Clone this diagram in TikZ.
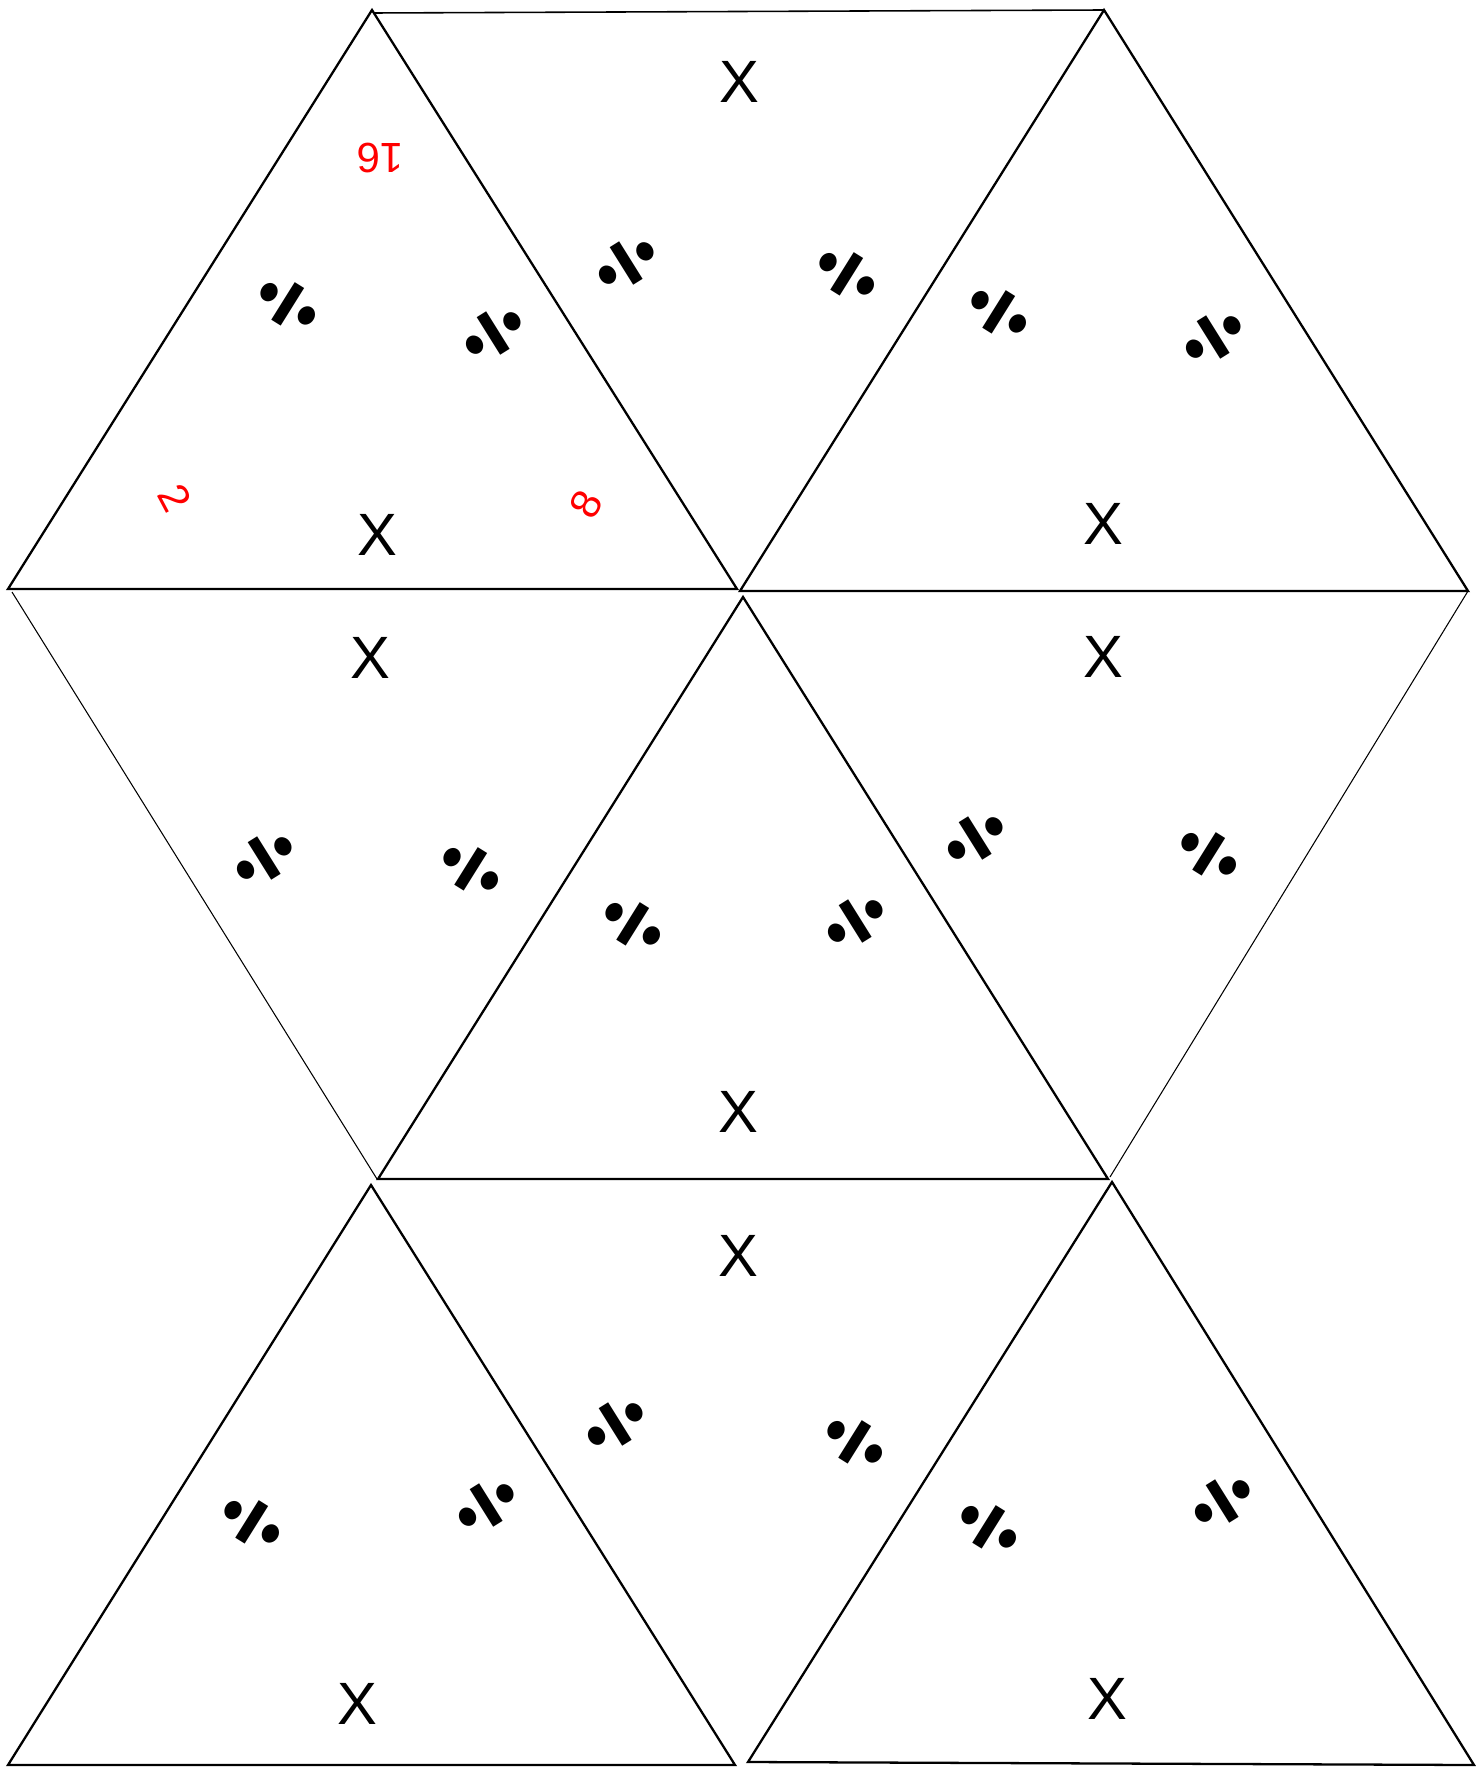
\documentclass[tikz,border=0pt]{standalone}
\usepackage{fontspec}
\setmainfont{Liberation Sans}
\newfontfamily\symfont{Fira Sans}
\usetikzlibrary{positioning}
\definecolor{edge}{HTML}{000000}
\definecolor{clue}{HTML}{FF0000}
\tikzset{
  tri/.style={draw=edge, line width=1.3pt, line join=miter},
  thinedge/.style={draw=edge, line width=0.6pt},
  opsym/.style={font=\symfont\bfseries\fontsize{52}{52}\selectfont, inner sep=0pt},
  mulsym/.style={font=\fontsize{34}{34}\selectfont, inner sep=0pt},
  cluenum/.style={text=clue, font=\fontsize{24}{24}\selectfont, inner sep=0pt},
}
\newcommand{\Dv}[3]{\node[opsym, rotate=#3, xscale=1.15] (#1) at (#2) {÷};}
\newcommand{\Mx}[2]{\node[mulsym] (#1) at (#2) {X};}

\begin{document}
\begin{tikzpicture}[x=0.02cm, y=-0.02cm]
  \useasboundingbox (0,0) rectangle (1475,1767);
  % vertices
  \coordinate (a1) at (8,589);   \coordinate (a2) at (372,10);   \coordinate (a3) at (737,589);
  \coordinate (c1) at (740,591); \coordinate (c2) at (1104,10);  \coordinate (c3) at (1468,591);
  \coordinate (e1) at (378,1179);\coordinate (e2) at (743,597);  \coordinate (e3) at (1108,1179);
  \coordinate (g1) at (8,1765);  \coordinate (g2) at (371,1185); \coordinate (g3) at (735,1765);
  \coordinate (i1) at (748,1762);\coordinate (i2) at (1112,1182);\coordinate (i3) at (1474,1765);
  \coordinate (b1) at (374,13);  \coordinate (d1) at (12,592);   \coordinate (d2) at (377,1179);
  \coordinate (f2) at (1110,1177);
  % upward triangles
  \foreach \t in {a,c,e,g,i}
    \draw[tri] (\t1) -- (\t2) -- (\t3) -- cycle;
  % closing edges of the downward pieces
  \draw[tri, line width=0.9pt] (b1) -- (c2);
  \draw[thinedge] (d1) -- (d2);
  \draw[thinedge] (c3) -- (f2);
  % piece A
  \node[cluenum, rotate=180] (n16) at (380,158) {16};
  \node[cluenum, rotate=-62] (n2) at (175,498) {2};
  \node[cluenum, rotate=62] (n8) at (586,504) {8};
  \Dv{al}{288,304}{58} \Dv{ar}{494,334}{-58} \Mx{ax}{377,535}
  % piece B
  \Mx{bx}{739,82} \Dv{bl}{627,264}{-58} \Dv{br}{847,274}{58}
  % piece C
  \Dv{cl}{999,312}{58} \Dv{cr}{1214,338}{-58} \Mx{cx}{1103,524}
  % piece D
  \Mx{dx}{370,658} \Dv{dl}{265,859}{-58} \Dv{dr}{471,869}{58}
  % piece E
  \Dv{el}{633,924}{58} \Dv{er}{856,922}{-58} \Mx{ex}{738,1112}
  % piece F
  \Mx{fx}{1103,657} \Dv{fl}{976,839}{-58} \Dv{fr}{1209,854}{58}
  % piece G
  \Dv{gl}{252,1522}{58} \Dv{gr}{487,1506}{-58} \Mx{gx}{357,1704}
  % piece H
  \Mx{hx}{738,1256} \Dv{hl}{616,1425}{-58} \Dv{hr}{855,1442}{58}
  % piece I
  \Dv{il}{989,1527}{58} \Dv{ir}{1223,1502}{-58} \Mx{ix}{1107,1699}
\end{tikzpicture}
\end{document}
